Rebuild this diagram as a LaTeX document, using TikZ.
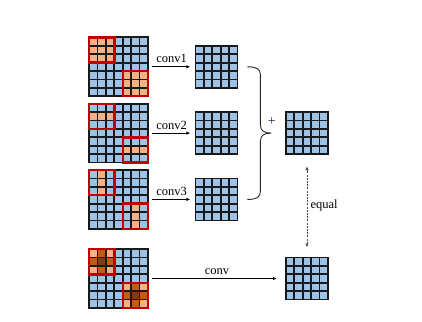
\documentclass[tikz,border=0pt]{standalone}
\usepackage{fontspec}
\setmainfont{Liberation Serif}
\usetikzlibrary{arrows.meta,positioning,calc}

\definecolor{cellblue}{HTML}{9DC3E6}
\definecolor{celllight}{HTML}{F4B183}
\definecolor{cellmid}{HTML}{C55A11}
\definecolor{celldark}{HTML}{843C0C}
\definecolor{kernelred}{HTML}{C00000}
\definecolor{plusviolet}{RGB}{55,15,85}

\def\cellsz{8.4pt}
% cell lines of a grid node with #2 cells per side
\newcommand{\drawlattice}[2]{%
  \foreach \k in {0,...,#2}{
    \draw[gridline] ([xshift=\k*\cellsz]#1.north west) -- ([xshift=\k*\cellsz]#1.south west);
    \draw[gridline] ([yshift=-\k*\cellsz]#1.north west) -- ([yshift=-\k*\cellsz]#1.north east);
  }}
% one coloured cell: node, column, row, colour
\newcommand{\paintcell}[4]{%
  \fill[#4] ([xshift=(#2)*\cellsz,yshift=-(#3)*\cellsz]#1.north west) rectangle ++(\cellsz,-\cellsz);}
% red 3x3 frame: node, column, row
\newcommand{\kernelframe}[3]{%
  \draw[kernel] ([xshift=(#2)*\cellsz,yshift=-(#3)*\cellsz]#1.north west) rectangle ++(3*\cellsz,-3*\cellsz);}

\begin{document}
\begin{tikzpicture}[
  x=1pt,y=-1pt,
  >={Latex[length=4pt,width=3.2pt]},
  ingrid/.style={minimum size=58.8pt,inner sep=0pt,outer sep=0pt,fill=cellblue},
  outgrid/.style={minimum size=42pt,inner sep=0pt,outer sep=0pt,fill=cellblue},
  gridline/.style={line width=1.8pt,black!90,line cap=rect},
  kernel/.style={line width=2.4pt,draw=kernelred},
  convlabel/.style={font=\fontsize{12.5pt}{15pt}\selectfont},
  convarrow/.style={->,line width=0.7pt,shorten <=4pt,shorten >=5pt},
  bracepath/.style={line width=0.9pt,black!85}
]
  \useasboundingbox (0,0) rectangle (422,321);

  % input grids
  \node[ingrid] (in1) at (118.5,66.8) {};
  \node[ingrid,below=7.5pt of in1] (in2) {};
  \node[ingrid,below=7.5pt of in2] (in3) {};
  \node[ingrid,below=20.3pt of in3] (in4) {};

  % output grids
  \node[outgrid,right=47.5pt of in1] (out1) {};
  \node[outgrid,right=47.5pt of in2] (out2) {};
  \node[outgrid,right=47.5pt of in3] (out3) {};
  \node[outgrid,right=48.5pt of out2] (sum) {};
  \node[outgrid] (out4) at (sum |- in4) {};

  % kernel cells
  \foreach \c in {0,1,2}{
    \foreach \r in {0,1,2}{
      \paintcell{in1}{\c}{\r}{celllight}
      \paintcell{in1}{\c+4}{\r+4}{celllight}
    }
    \paintcell{in2}{\c}{1}{celllight}
    \paintcell{in2}{\c+4}{5}{celllight}
    \paintcell{in3}{1}{\c}{celllight}
    \paintcell{in3}{5}{\c+4}{celllight}
  }
  \foreach \ox in {0,4}{
    \foreach \c/\r/\col in {0/0/celllight,1/0/cellmid,2/0/celllight,
                            0/1/cellmid,1/1/celldark,2/1/cellmid,
                            0/2/celllight,1/2/cellmid,2/2/celllight}{
      \paintcell{in4}{\c+\ox}{\r+\ox}{\col}
    }
  }

  \foreach \g in {in1,in2,in3,in4}{\drawlattice{\g}{7}}
  \foreach \g in {out1,out2,out3,sum,out4}{\drawlattice{\g}{5}}
  \foreach \g in {in1,in2,in3,in4}{
    \kernelframe{\g}{0}{0}
    \kernelframe{\g}{4}{4}
  }

  % convolutions
  \draw[convarrow] (in1) -- node[convlabel,above]{conv1} (out1);
  \draw[convarrow] (in2) -- node[convlabel,above]{conv2} (out2);
  \draw[convarrow] (in3) -- node[convlabel,above]{conv3} (out3);
  \draw[convarrow,shorten >=9pt] (in4) -- node[convlabel,above]{conv} (out4);

  % sum of the three branches
  \coordinate (bracetop) at ([xshift=10pt]out1.east);
  \coordinate (bracebot) at ([xshift=10pt]out3.east);
  \coordinate (bracetip) at ($(bracetop)!0.5!(bracebot)+(24,0)$);
  \draw[bracepath] (bracetop) .. controls ($(bracetop)+(9,0)$) and ($(bracetop)+(13,2)$) .. ($(bracetop)+(13,8)$)
    -- ($(bracetip)+(-11,-8)$) .. controls ($(bracetip)+(-11,-2)$) and ($(bracetip)+(-7,0)$) .. (bracetip)
    .. controls ($(bracetip)+(-7,0)$) and ($(bracetip)+(-11,2)$) .. ($(bracetip)+(-11,8)$)
    -- ($(bracebot)+(13,-8)$) .. controls ($(bracebot)+(13,-2)$) and ($(bracebot)+(9,0)$) .. (bracebot);
  \node[font=\fontsize{14pt}{16pt}\selectfont,text=plusviolet,inner sep=0pt] (plus)
    at ([xshift=-14pt,yshift=12pt]sum.west) {+};
  \draw[<->,black!70,line width=0.7pt,dash pattern=on 2pt off 1.2pt,shorten <=10pt,shorten >=12pt]
    (out4.north) -- node[convlabel,right,text=black]{equal} (sum.south);
\end{tikzpicture}
\end{document}
